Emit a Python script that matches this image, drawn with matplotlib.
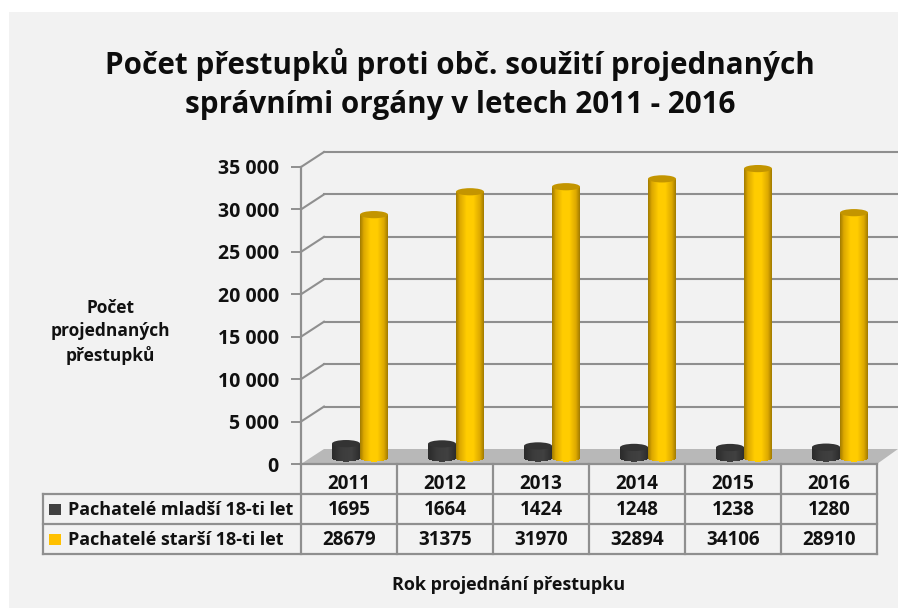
import numpy as np
import matplotlib
matplotlib.use("Agg")
import matplotlib.pyplot as plt
from matplotlib.patches import Ellipse, Polygon, Rectangle
from matplotlib.transforms import Affine2D

plt.rcParams["font.family"] = ["Open Sans", "DejaVu Sans"]
plt.rcParams["font.weight"] = "bold"

years = ["2011", "2012", "2013", "2014", "2015", "2016"]
younger = [1695, 1664, 1424, 1248, 1238, 1280]
older = [28679, 31375, 31970, 32894, 34106, 28910]
younger_name = "Pachatelé mladší 18-ti let"
older_name = "Pachatelé starší 18-ti let"
yticks = [0, 5000, 10000, 15000, 20000, 25000, 30000, 35000]
title = "Počet přestupků proti obč. soužití projednaných\nsprávními orgány v letech 2011 - 2016"
ylab = "Počet\nprojednaných\npřestupků"
xlab = "Rok projednání přestupku"

W, H = 898, 608
GREY = "#8f8f8f"
TXT = "#111111"

fig = plt.figure(figsize=(W / 100, H / 100), dpi=100, facecolor="white")

# grey panel behind everything
fig.add_artist(Rectangle((9 / W, 0), 1, 1 - 12 / H, transform=fig.transFigure, fc="#f2f2f2", ec="none", zorder=-5))

# plot area: front plane of the fake 3d box
ax = fig.add_axes([301 / W, 1 - 464 / H, 576 / W, 297 / H], zorder=1)
ax.set_xlim(0, 6)
ax.set_ylim(0, 35000)
ax.patch.set_alpha(0)
for s in ["top", "right", "bottom"]:
    ax.spines[s].set_visible(False)
ax.spines["left"].set_color(GREY)
ax.spines["left"].set_linewidth(1.6)
ax.set_xticks([])
ax.set_yticks(yticks)
ax.set_yticklabels([f"{v:,}".replace(",", " ") for v in yticks])
ax.tick_params(axis="y", length=7, width=1.4, color=GREY, pad=9, labelsize=14, labelcolor=TXT)

dx_unit = 6 / 576
dy_unit = 35000 / 297
back = ax.transData + Affine2D().translate(23, 15)

ax.add_patch(Polygon([(0, 0), (6, 0), (6 + 21 * dx_unit, 15 * dy_unit), (23 * dx_unit, 15 * dy_unit)],
                     fc="#b8b8b8", ec="none", zorder=1, clip_on=False))
for v in yticks[1:]:
    ax.plot([0, 23 * dx_unit], [v, v + 15 * dy_unit], color=GREY, lw=1.5, zorder=1, clip_on=False)
    ax.plot([0, 6], [v, v], color=GREY, lw=1.5, zorder=1, clip_on=False, transform=back)


def cylinder(x, value, offset_px, stops, top):
    # vertical strips for the shading, the base follows the ellipse
    rx = 14 * dx_unit
    ry = 3.6 * dy_unit
    tr = ax.transData + Affine2D().translate(0, 6)
    n = 28
    xs = np.linspace(-1, 1, n + 1)
    cmap = matplotlib.colors.LinearSegmentedColormap.from_list("c", stops)
    for a, b in zip(xs[:-1], xs[1:]):
        u = (a + b) / 2
        base = -ry * np.sqrt(1 - u * u)
        ax.bar(x + offset_px * dx_unit + u * rx, value - base, width=(b - a) * rx, bottom=base,
               color=cmap((u + 1) / 2), transform=tr, zorder=3, clip_on=False, lw=0, antialiased=False)
    ax.add_patch(Ellipse((x + offset_px * dx_unit, value), 2 * rx, 2 * ry, fc=top, ec="none",
                         transform=tr, zorder=4, clip_on=False))


dark_stops = [(0, "#2a2a2a"), (0.35, "#3c3c3c"), (0.7, "#404040"), (1, "#2c2c2c")]
gold_stops = [(0, "#a07a00"), (0.14, "#dca800"), (0.38, "#ffcc00"), (0.62, "#ffcc00"), (0.86, "#dca800"), (1, "#a07a00")]
for i in range(len(years)):
    cylinder(i + 0.5, younger[i], -3, dark_stops, "#333333")
for i in range(len(years)):
    cylinder(i + 0.5, older[i], 25, gold_stops, "#c39500")

# overlay in pixel coordinates for the table and the texts
bg = fig.add_axes([0, 0, 1, 1], zorder=2)
bg.set_xlim(0, W)
bg.set_ylim(H, 0)
bg.axis("off")
ly = 1.6
left, x0, x1 = 43, 301, 877
y0, y1, y2, y3 = 464, 494, 524, 554
bg.plot([x0, x1], [y0, y0], color=GREY, lw=ly)
bg.plot([left, x1], [y1, y1], color=GREY, lw=ly)
bg.plot([left, x1], [y2, y2], color=GREY, lw=ly)
bg.plot([left, x1], [y3, y3], color=GREY, lw=ly)
bg.plot([left, left], [y1, y3], color=GREY, lw=ly)
for i in range(7):
    bg.plot([x0 + i * 96] * 2, [y0, y3], color=GREY, lw=ly)
for i in range(len(years)):
    cx = x0 + (i + 0.5) * 96
    bg.text(cx, (y0 + y1) / 2 + 5, years[i], ha="center", va="center", fontsize=13.5, color=TXT)
    bg.text(cx, (y1 + y2) / 2 + 1, str(younger[i]), ha="center", va="center", fontsize=13.5, color=TXT)
    bg.text(cx, (y2 + y3) / 2 + 1, str(older[i]), ha="center", va="center", fontsize=13.5, color=TXT)
bg.add_patch(Rectangle((49, 504), 12, 11, fc="#404040", ec="none"))
bg.add_patch(Rectangle((49, 534), 12, 11, fc="#ffc000", ec="none"))
bg.text(68, (y1 + y2) / 2 + 1, younger_name, ha="left", va="center", fontsize=13, color=TXT)
bg.text(68, (y2 + y3) / 2 + 1, older_name, ha="left", va="center", fontsize=13, color=TXT)

bg.text(460, 84, title, ha="center", va="center", fontsize=21.3, color="#0d0d0d", linespacing=1.38)
bg.text(110, 332, ylab, ha="center", va="center", fontsize=12.5, color=TXT, linespacing=1.35)
bg.text(509, 585, xlab, ha="center", va="center", fontsize=13, color=TXT)

fig.savefig("out.png", dpi=100)
